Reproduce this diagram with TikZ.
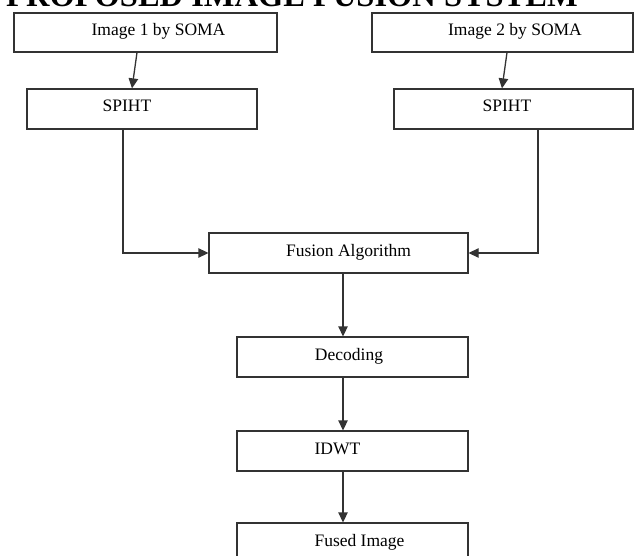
\documentclass[tikz,border=0pt]{standalone}
\usepackage{fontspec}
\setmainfont{Liberation Serif}
\usetikzlibrary{arrows.meta,calc}
\definecolor{ln}{HTML}{333333}
\begin{document}
\begin{tikzpicture}[x=1pt,y=-1pt,
  box/.style={draw=ln, line width=1.3pt, minimum height=40pt, inner sep=0pt},
  lbl/.style={font=\fontsize{17.5}{20}\selectfont, text height=12pt, text depth=4pt, inner sep=0pt, yshift=1pt},
  arr/.style={draw=ln, line width=1.3pt, -{Triangle[length=10pt,width=9.5pt]}}]
\useasboundingbox (0,0) rectangle (640,556);
\clip (0,0) rectangle (640,556);
\node[anchor=base west, inner sep=0pt, font=\bfseries\fontsize{32.5}{36}\selectfont] (title) at (6,6.5) {\llap{4.\ }PROPOSED IMAGE FUSION SYSTEM};
\node[box, minimum width=263pt, minimum height=39pt, label={[lbl, xshift=13pt]center:Image 1 by SOMA}] (b1) at (145.5,32.4) {};
\node[box, minimum width=261pt, minimum height=39pt, label={[lbl, xshift=12.5pt]center:Image 2 by SOMA}] (b2) at (502.5,32.4) {};
\node[box, minimum width=230pt, label={[lbl, xshift=-15pt]center:SPIHT}] (s1) at (142,109) {};
\node[box, minimum width=239pt, label={[lbl, xshift=-6.5pt]center:SPIHT}] (s2) at (513.5,109) {};
\node[box, minimum width=259pt, label={[lbl, xshift=10pt]center:Fusion Algorithm}] (fus) at (338.5,253) {};
\node[box, minimum width=231pt, label={[lbl, xshift=-3.5pt]center:Decoding}] (dec) at (352.5,357) {};
\node[box, minimum width=231pt, label={[lbl, xshift=-15pt]center:IDWT}] (idwt) at (352.5,451) {};
\node[box, minimum width=231pt, label={[lbl, xshift=7pt]center:Fused Image}] (fused) at (352.5,543) {};
\draw[arr] ([xshift=-8.5pt]b1.south) -- ([xshift=-10pt]s1.north);
\draw[arr] ([xshift=4.5pt]b2.south) -- ([xshift=-11.5pt]s2.north);
\draw[arr] ([xshift=-19pt]s1.south) |- (fus.west);
\draw[arr] ([xshift=24.5pt]s2.south) |- (fus.east);
\draw[arr] ([xshift=4.5pt]fus.south) -- ([xshift=-9.5pt]dec.north);
\draw[arr] ([xshift=-9.5pt]dec.south) -- ([xshift=-9.5pt]idwt.north);
\draw[arr] ([xshift=-9.5pt]idwt.south) -- ([xshift=-9.5pt]fused.north);
\end{tikzpicture}
\end{document}
